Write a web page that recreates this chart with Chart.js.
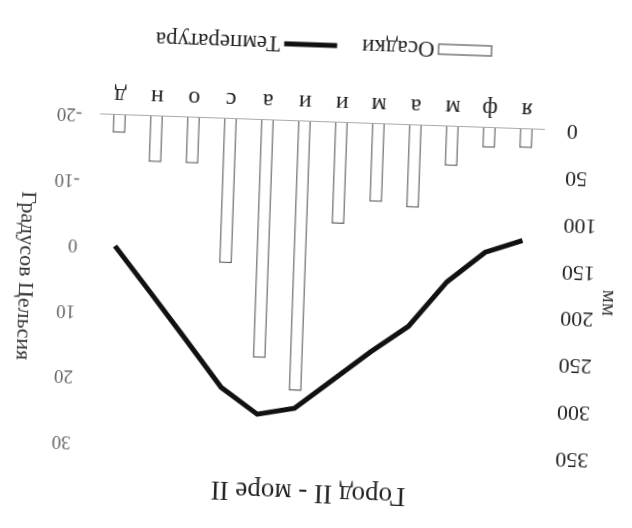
<!DOCTYPE html>
<html>
<head>
<meta charset="utf-8">
<script src="https://cdn.jsdelivr.net/npm/chart.js@4"></script>
<style>
  html, body { margin: 0; padding: 0; background: #fff; overflow: hidden; }
  #wrap { width: 632px; height: 528px; }
  /* the reference is a scan that was put in upside down and a bit crooked */
  #chart { transform: rotate(182deg); }
</style>
</head>
<body>
<div id="wrap"><canvas id="chart" width="632" height="528"></canvas></div>
<script>
const months = ['я', 'ф', 'м', 'а', 'м', 'и', 'и', 'а', 'с', 'о', 'н', 'д'];
const precipMm = [20, 21, 42, 88, 83, 108, 288, 254, 154, 49, 49, 19];
const tempC = [-3, -1, 3.7, 10.7, 14.8, 19.3, 23.8, 24.9, 21, 13.9, 6.9, 0];
const mmRange = [0, 350, 50];
const tempRange = [-20, 30, 10];

const SERIF = '"Liberation Serif", "Times New Roman", serif';

// axis titles read bottom-to-top on both sides, so they're drawn by hand
const sideTitles = {
  id: 'sideTitles',
  afterDraw(chart) {
    const { ctx, chartArea } = chart;
    const midY = (chartArea.top + chartArea.bottom) / 2;
    const items = [
      { x: 22, y: midY - 7, text: 'мм', size: 21 },
      { x: 606, y: midY, text: 'Градусов Цельсия', size: 22 },
    ];
    ctx.save();
    ctx.fillStyle = '#333';
    ctx.textAlign = 'center';
    ctx.textBaseline = 'middle';
    items.forEach((it) => {
      ctx.save();
      ctx.translate(it.x, it.y);
      ctx.rotate(-Math.PI / 2);
      ctx.font = `${it.size}px ${SERIF}`;
      ctx.fillText(it.text, 0, 0);
      ctx.restore();
    });
    ctx.restore();
  },
};

// legend: outlined box for the bars, thick stroke for the line
const bottomLegend = {
  id: 'bottomLegend',
  afterDraw(chart) {
    const { ctx } = chart;
    const y = 483;
    const sampleW = 53;
    ctx.save();
    ctx.font = `23px ${SERIF}`;
    ctx.textBaseline = 'middle';
    const ds = chart.data.datasets;
    const widths = ds.map((d) => ctx.measureText(d.label).width);
    const total = widths.reduce((a, w) => a + sampleW + 4 + w, 0) + 25;
    let x = chart.width / 2 - total / 2;
    ds.forEach((d, i) => {
      if (d.type === 'bar') {
        ctx.fillStyle = '#fff';
        ctx.strokeStyle = '#777';
        ctx.lineWidth = 1.5;
        ctx.fillRect(x, y - 5, sampleW, 10);
        ctx.strokeRect(x, y - 5, sampleW, 10);
      } else {
        ctx.strokeStyle = d.borderColor;
        ctx.lineWidth = 5;
        ctx.beginPath();
        ctx.moveTo(x, y);
        ctx.lineTo(x + sampleW, y);
        ctx.stroke();
      }
      x += sampleW + 4;
      ctx.fillStyle = '#222';
      ctx.fillText(d.label, x, y + 1);
      x += widths[i] + 25;
    });
    ctx.restore();
  },
};

new Chart(document.getElementById('chart'), {
  data: {
    labels: months,
    datasets: [
      {
        type: 'bar', label: 'Осадки', data: precipMm, yAxisID: 'y', order: 1,
        backgroundColor: '#fff', borderColor: '#666', borderWidth: 1.5,
        barPercentage: 0.345, categoryPercentage: 1,
      },
      {
        type: 'line', label: 'Температура', data: tempC, yAxisID: 'y2', order: 0,
        borderColor: '#111', backgroundColor: '#111', borderWidth: 5,
        pointRadius: 0, tension: 0,
      },
    ],
  },
  options: {
    responsive: false,
    animation: false,
    devicePixelRatio: 1,
    layout: { padding: { left: 0, right: 0, top: 0, bottom: 72 } },
    plugins: {
      legend: { display: false },
      tooltip: { enabled: false },
      title: {
        display: true,
        text: 'Город II - море II',
        color: '#222',
        font: { family: SERIF, size: 27, weight: 'normal' },
        padding: { top: 20, bottom: 26 },
      },
    },
    scales: {
      x: {
        grid: { display: false, drawTicks: false },
        border: { display: true, color: '#aaa', width: 1, dash: [2, 2] },
        ticks: { color: '#222', padding: 5, font: { family: SERIF, size: 24 } },
        afterFit: (s) => { s.height = 50; },
      },
      y: {
        position: 'left',
        min: mmRange[0], max: mmRange[1],
        grid: { display: false, drawTicks: false },
        border: { display: false },
        ticks: { stepSize: mmRange[2], color: '#222', padding: 22, font: { family: SERIF, size: 22 } },
        afterFit: (s) => { s.width = 92; },
      },
      y2: {
        position: 'right',
        min: tempRange[0], max: tempRange[1],
        grid: { display: false, drawTicks: false },
        border: { display: false },
        ticks: { stepSize: tempRange[2], color: '#666', padding: 19, font: { family: SERIF, size: 19 } },
        afterFit: (s) => { s.width = 96; },
      },
    },
  },
  plugins: [sideTitles, bottomLegend],
});
</script>
</body>
</html>
